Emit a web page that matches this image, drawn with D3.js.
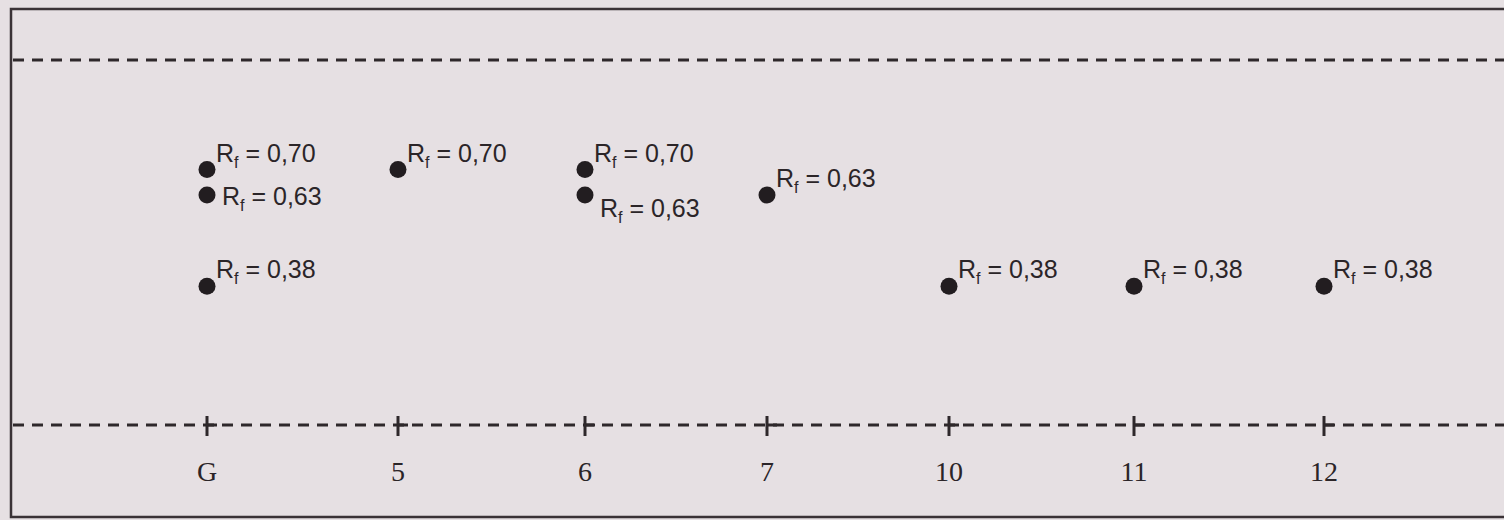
<!DOCTYPE html>
<html>
<head>
<meta charset="utf-8">
<script src="https://cdn.jsdelivr.net/npm/d3@7"></script>
<style>
  body { margin: 0; background: #e6e0e3; }
  svg { display: block; }
</style>
</head>
<body>
<svg id="plate" width="1504" height="520"></svg>
<script>
// lanes along the baseline
var lanes = ["G", "5", "6", "7", "10", "11", "12"];
var laneX = [207, 398, 585, 767, 949, 1134, 1324];

// spots: lane, Rf value, where the label goes
var spotLane = ["G", "G", "G", "5", "6", "6", "7", "10", "11", "12"];
var spotRf   = [0.70, 0.63, 0.38, 0.70, 0.70, 0.63, 0.63, 0.38, 0.38, 0.38];
var spotPos  = ["sup", "side", "sup", "sup", "sup", "sub", "sup", "sup", "sup", "sup"];

var svg = d3.select("#plate");

var x = d3.scaleOrdinal().domain(lanes).range(laneX);
// baseline at Rf 0, solvent front at Rf 1
var y = d3.scaleLinear().domain([0, 1]).range([425, 60]);

// plate outline
svg.append("path")
  .attr("d", "M1510,9 L11,9 L11,517 L1510,517")
  .attr("fill", "none")
  .attr("stroke", "#3a3236")
  .attr("stroke-width", 2.5);

// solvent front and baseline
[1, 0].forEach(function (v) {
  svg.append("line")
    .attr("x1", 13).attr("x2", 1504)
    .attr("y1", y(v)).attr("y2", y(v))
    .attr("stroke", "#2e282b")
    .attr("stroke-width", 3)
    .attr("stroke-dasharray", "11,8");
});

// lane ticks + labels
var lane = svg.selectAll(".lane").data(lanes).enter().append("g")
  .attr("transform", function (d) { return "translate(" + x(d) + ",0)"; });
lane.append("line")
  .attr("y1", y(0) - 9).attr("y2", y(0) + 11)
  .attr("stroke", "#2e282b").attr("stroke-width", 3);
lane.append("line")
  .attr("x1", 0).attr("x2", 10)
  .attr("y1", y(0)).attr("y2", y(0))
  .attr("stroke", "#2e282b").attr("stroke-width", 3);
lane.append("text")
  .attr("y", 481)
  .attr("text-anchor", "middle")
  .attr("font-family", "Liberation Serif, serif")
  .attr("font-size", 28)
  .attr("fill", "#2b2528")
  .text(function (d) { return d; });

// spots
var spots = spotLane.map(function (l, i) {
  return { lane: l, rf: spotRf[i], pos: spotPos[i] };
});

svg.selectAll(".spot").data(spots).enter().append("circle")
  .attr("cx", function (d) { return x(d.lane); })
  .attr("cy", function (d) { return y(d.rf); })
  .attr("r", 8.5)
  .attr("fill", "#221d20");

var lab = svg.selectAll(".lab").data(spots).enter().append("text")
  .attr("x", function (d) { return x(d.lane) + (d.pos === "sup" ? 9 : 15); })
  .attr("y", function (d) {
    var yy = y(d.rf);
    if (d.pos === "sup") return yy - 8;
    if (d.pos === "side") return yy + 10;
    return yy + 22;
  })
  .attr("font-family", "Liberation Sans, Arial, sans-serif")
  .attr("font-size", 25)
  .attr("fill", "#2b2528");
lab.append("tspan").text("R");
lab.append("tspan").attr("font-size", 16).attr("dy", 6).text("f");
lab.append("tspan").attr("dy", -6).text(function (d) {
  return " = " + d.rf.toFixed(2).replace(".", ",");
});
</script>
</body>
</html>
